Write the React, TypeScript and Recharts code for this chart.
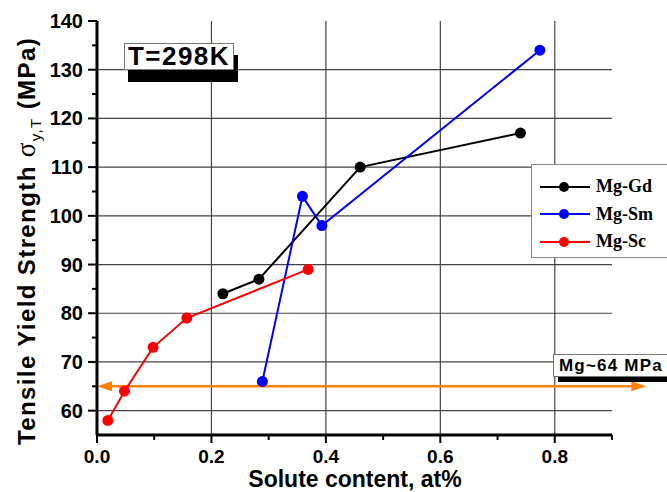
import { LineChart, Line, XAxis, YAxis, CartesianGrid, ReferenceLine, Legend } from 'recharts'

// solute content (at%) and tensile yield strength (MPa) per alloy
const gdX = [0.22, 0.283, 0.46, 0.74]
const gdY = [84, 87, 110, 117]
const smX = [0.289, 0.359, 0.393, 0.774]
const smY = [66, 104, 98, 134]
const scX = [0.019, 0.048, 0.098, 0.157, 0.369]
const scY = [58, 64, 73, 79, 89]

const xTicks = [0, 0.1, 0.2, 0.3, 0.4, 0.5, 0.6, 0.7, 0.8, 0.9]
const xGrid = [0.2, 0.4, 0.6, 0.8]
const yTicks = [60, 65, 70, 75, 80, 85, 90, 95, 100, 105, 110, 115, 120, 125, 130, 135, 140]
const yGrid = [60, 70, 80, 90, 100, 110, 120, 130]

const mgLevel = 65
const mgSpan = [0, 0.96]

const toPts = (xs: number[], ys: number[]) => xs.map((x, i) => ({ x, y: ys[i] }))

const series = [
  { name: 'Mg-Gd', color: '#000000', data: toPts(gdX, gdY) },
  { name: 'Mg-Sm', color: '#0000ff', data: toPts(smX, smY) },
  { name: 'Mg-Sc', color: '#ff0000', data: toPts(scX, scY) },
]

const SANS = '"Liberation Sans", Arial, sans-serif'
const SERIF = '"Liberation Serif", "Times New Roman", serif'

function XTick({ x, y, payload }: any) {
  const major = Math.round(payload.value * 10) % 2 === 0
  return (
    <g>
      <line x1={x} x2={x} y1={y} y2={y + (major ? 8 : 5)} stroke="#000" strokeWidth={2} />
      {major && (
        <text x={x} y={y + 28} textAnchor="middle" fontSize={19} fontWeight="bold" fontFamily={SANS} fill="#000">
          {payload.value.toFixed(1)}
        </text>
      )}
    </g>
  )
}

function YTick({ x, y, payload }: any) {
  const major = payload.value % 10 === 0
  return (
    <g>
      <line x1={x - (major ? 9 : 5)} x2={x} y1={y} y2={y} stroke="#000" strokeWidth={2} />
      {major && (
        <text x={x - 14} y={y + 7} textAnchor="end" fontSize={20} fontWeight="bold" fontFamily={SANS} fill="#000">
          {payload.value}
        </text>
      )}
    </g>
  )
}

function Arrow({ x1, y1, x2, y2 }: any) {
  const c = '#ff8000'
  return (
    <g>
      <line x1={x1 + 8} y1={y1} x2={x2 - 8} y2={y2} stroke={c} strokeWidth={2.5} />
      <polygon points={`${x1},${y1} ${x1 + 15},${y1 - 5} ${x1 + 15},${y1 + 5}`} fill={c} />
      <polygon points={`${x2},${y2} ${x2 - 15},${y2 - 5} ${x2 - 15},${y2 + 5}`} fill={c} />
    </g>
  )
}

function LegendBox() {
  return (
    <div style={{ border: '1px solid #888', background: '#fff', width: 200, height: 94, paddingTop: 8, boxSizing: 'border-box' }}>
      {series.map(s => (
        <div key={s.name} style={{ display: 'flex', alignItems: 'center', height: 27.5 }}>
          <svg width={64} height={20}>
            <line x1={8} x2={58} y1={10} y2={10} stroke={s.color} strokeWidth={2} />
            <circle cx={32} cy={10} r={5} fill={s.color} />
          </svg>
          <span style={{ fontFamily: SERIF, fontWeight: 'bold', fontSize: 18, color: '#000' }}>{s.name}</span>
        </div>
      ))}
    </div>
  )
}

export default function App() {
  return (
    <div style={{ position: 'absolute', left: 0, top: 0, width: 667, height: 492, overflow: 'hidden', background: '#fff' }}>
      <LineChart width={667} height={492} margin={{ top: 21, right: 55, bottom: 0, left: 0 }}>
        <CartesianGrid horizontalValues={yGrid} verticalValues={xGrid} stroke="#444" strokeWidth={1.2} />
        <XAxis
          type="number"
          dataKey="x"
          domain={[0, 0.9]}
          ticks={xTicks}
          interval={0}
          height={57}
          tickSize={0}
          tickMargin={0}
          tickLine={false}
          tick={<XTick />}
          axisLine={{ stroke: '#000', strokeWidth: 3 }}
          label={{
            content: () => (
              <text x={355} y={487} textAnchor="middle" fontSize={23} fontWeight="bold" fontFamily={SANS} fill="#000">
                Solute content, at%
              </text>
            ),
          }}
        />
        <XAxis xAxisId="top" orientation="top" type="number" domain={[0, 0.9]} height={0} tick={false} tickLine={false} axisLine={{ stroke: '#000', strokeWidth: 3 }} />
        <YAxis
          type="number"
          domain={[55, 140]}
          ticks={yTicks}
          interval={0}
          width={97}
          tickSize={0}
          tickMargin={0}
          tickLine={false}
          tick={<YTick />}
          axisLine={{ stroke: '#000', strokeWidth: 3 }}
          label={{
            content: () => (
              <text transform="translate(35,241) rotate(-90)" textAnchor="middle" fontSize={24} fontWeight="bold" fontFamily={SANS} fill="#000" letterSpacing={1.4}>
                <tspan>Tensile Yield Strength </tspan>
                <tspan fontFamily={SERIF} fontWeight="normal" fontSize={27}>σ</tspan>
                <tspan fontSize={15} fontWeight="normal" dy={6}>y,T</tspan>
                <tspan dy={-6}> (MPa)</tspan>
              </text>
            ),
          }}
        />
        <YAxis yAxisId="right" orientation="right" type="number" domain={[55, 140]} width={0} tick={false} tickLine={false} axisLine={{ stroke: '#000', strokeWidth: 3 }} />
        <ReferenceLine
          segment={[{ x: mgSpan[0], y: mgLevel }, { x: mgSpan[1], y: mgLevel }]}
          ifOverflow="visible"
          shape={(p: any) => <Arrow {...p} />}
        />
        {series.map(s => (
          <Line
            key={s.name}
            data={s.data}
            dataKey="y"
            name={s.name}
            stroke={s.color}
            strokeWidth={2}
            dot={{ r: 5.5, fill: s.color, stroke: s.color, strokeWidth: 0 }}
            isAnimationActive={false}
          />
        ))}
        <Legend
          layout="horizontal"
          align="center"
          verticalAlign="middle"
          wrapperStyle={{ left: 531, top: 164, width: 200 }}
          content={() => <LegendBox />}
        />
      </LineChart>
      <div
        style={{
          position: 'absolute', left: 124, top: 43, width: 110, height: 27, boxSizing: 'border-box',
          border: '1px solid #777', background: '#fff', boxShadow: '4px 12px 0 #000',
          fontFamily: SANS, fontWeight: 'bold', fontSize: 26, letterSpacing: 1.5, lineHeight: '25px', textAlign: 'center', color: '#000',
        }}
      >
        T=298K
      </div>
      <div
        style={{
          position: 'absolute', left: 553, top: 354, width: 160, height: 23, boxSizing: 'border-box',
          border: '1px solid #777', background: '#fff', boxShadow: '5px 5px 0 #000', paddingLeft: 5,
          fontFamily: SANS, fontWeight: 'bold', fontSize: 17, letterSpacing: 1.2, lineHeight: '21px', color: '#000',
        }}
      >
        Mg~64 MPa
      </div>
    </div>
  )
}
